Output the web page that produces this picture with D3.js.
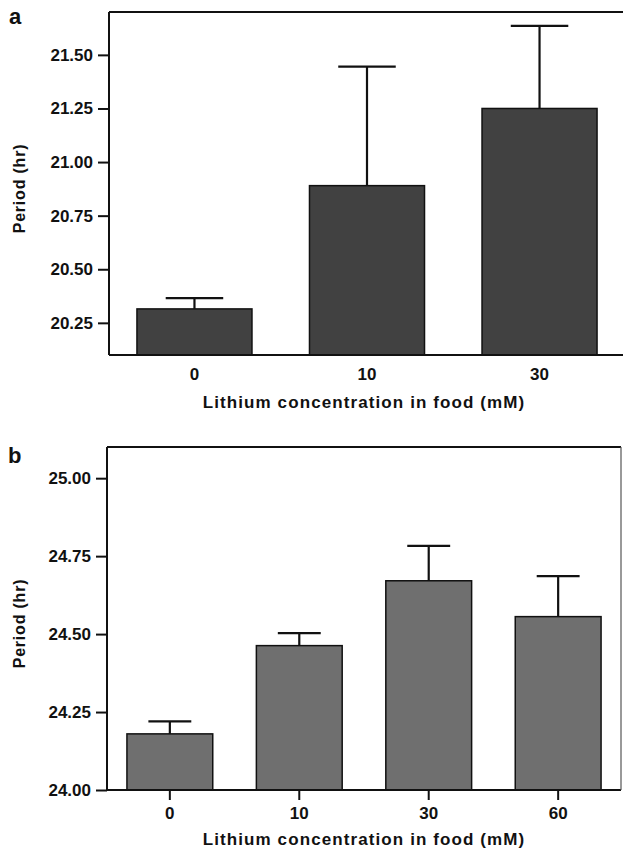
<html>
<head>
    <script src="https://d3js.org/d3.v7.min.js"></script>
    <style>
        body { margin: 0; background: #fff; }
        text { font-family: "Liberation Sans", Arial, sans-serif; font-weight: bold; fill: #111; }
        .axis path, .axis line { stroke: #111; stroke-width: 2px; }
        .axis text { font-size: 17px; }
    </style>
</head>
<body>
    <script>
        // panel a
        var catsA = ["0", "10", "30"];
        var meanA = [20.315, 20.89, 21.25];
        var semA = [0.05, 0.555, 0.385];
        var ticksA = [20.25, 20.50, 20.75, 21.00, 21.25, 21.50];

        // panel b
        var catsB = ["0", "10", "30", "60"];
        var meanB = [24.18, 24.463, 24.671, 24.556];
        var semB = [0.04, 0.04, 0.112, 0.13];
        var ticksB = [24.00, 24.25, 24.50, 24.75, 25.00];

        var width = 623, height = 850;
        var svg = d3.select("body").append("svg")
            .attr("width", width)
            .attr("height", height);

        function panel(opt) {
            var data = opt.cats.map(function (c, i) {
                return { cat: c, mean: opt.mean[i], sem: opt.sem[i] };
            });
            var x = d3.scaleBand()
                .domain(opt.cats)
                .range([opt.left, opt.right])
                .paddingInner(opt.padIn)
                .paddingOuter(opt.padOut);
            var y = d3.scaleLinear()
                .domain(opt.domain)
                .range([opt.bottom, opt.top]);
            var g = svg.append("g");

            // bars
            g.selectAll(".bar")
                .data(data)
                .enter().append("rect")
                .attr("x", function (d) { return x(d.cat); })
                .attr("y", function (d) { return y(d.mean); })
                .attr("width", x.bandwidth())
                .attr("height", function (d) { return y(opt.domain[0]) - y(d.mean); })
                .attr("fill", opt.fill)
                .attr("stroke", "#111")
                .attr("stroke-width", 1.5);

            // error bars, upper half only
            var cap = x.bandwidth() * 0.5;
            var eb = g.selectAll(".err")
                .data(data)
                .enter().append("g")
                .attr("stroke", "#111")
                .attr("stroke-width", 2.2);
            eb.append("line")
                .attr("x1", function (d) { return x(d.cat) + x.bandwidth() / 2; })
                .attr("x2", function (d) { return x(d.cat) + x.bandwidth() / 2; })
                .attr("y1", function (d) { return y(d.mean); })
                .attr("y2", function (d) { return y(d.mean + d.sem); });
            eb.append("line")
                .attr("x1", function (d) { return x(d.cat) + x.bandwidth() / 2 - cap / 2; })
                .attr("x2", function (d) { return x(d.cat) + x.bandwidth() / 2 + cap / 2; })
                .attr("y1", function (d) { return y(d.mean + d.sem); })
                .attr("y2", function (d) { return y(d.mean + d.sem); });

            // axes
            var yAxis = g.append("g")
                .attr("class", "axis")
                .attr("transform", "translate(" + opt.left + ",0)")
                .call(d3.axisLeft(y).tickValues(opt.ticks).tickFormat(d3.format(".2f"))
                    .tickSize(11).tickPadding(5).tickSizeOuter(0));
            yAxis.select(".domain").attr("d", "M0," + opt.top + "V" + opt.bottom);

            var xAxis = g.append("g")
                .attr("class", "axis")
                .attr("transform", "translate(0," + opt.bottom + ")")
                .call(d3.axisBottom(x).tickSize(opt.xTick).tickPadding(opt.xPad).tickSizeOuter(0));
            xAxis.select(".domain").attr("d", "M" + opt.left + ",0H" + opt.frameRight);

            // frame
            g.append("line")
                .attr("x1", opt.left).attr("x2", opt.frameRight)
                .attr("y1", opt.top).attr("y2", opt.top)
                .attr("stroke", "#111").attr("stroke-width", 2);
            if (opt.rightBorder) {
                g.append("line")
                    .attr("x1", opt.frameRight).attr("x2", opt.frameRight)
                    .attr("y1", opt.top).attr("y2", opt.bottom)
                    .attr("stroke", "#555").attr("stroke-width", 1.2);
            }

            // labels
            g.append("text")
                .attr("x", opt.letterX).attr("y", opt.letterY)
                .style("font-size", "22px")
                .text(opt.letter);
            g.append("text")
                .attr("transform", "translate(25," + ((opt.top + opt.bottom) / 2 + 5) + ") rotate(-90)")
                .attr("text-anchor", "middle")
                .style("font-size", "16px")
                .style("letter-spacing", "0.8px")
                .text("Period (hr)");
            g.append("text")
                .attr("x", 364).attr("y", opt.titleY)
                .attr("text-anchor", "middle")
                .style("font-size", "17px")
                .style("letter-spacing", "1.1px")
                .text("Lithium concentration in food (mM)");
        }

        panel({
            cats: catsA, mean: meanA, sem: semA, ticks: ticksA,
            domain: [20.1, 21.7], top: 12, bottom: 355,
            left: 109, right: 625, frameRight: 623, padIn: 1 / 3, padOut: 0.162,
            fill: "#414141", xTick: 0, xPad: 13, rightBorder: false,
            letter: "a", letterX: 9, letterY: 24, titleY: 408
        });

        panel({
            cats: catsB, mean: meanB, sem: semB, ticks: ticksB,
            domain: [24, 25.1], top: 447, bottom: 790,
            left: 107, right: 621, frameRight: 621, padIn: 0.337, padOut: 0.154,
            fill: "#6f6f6f", xTick: 10, xPad: 7, rightBorder: true,
            letter: "b", letterX: 8, letterY: 463, titleY: 845
        });
    </script>
</body>
</html>
